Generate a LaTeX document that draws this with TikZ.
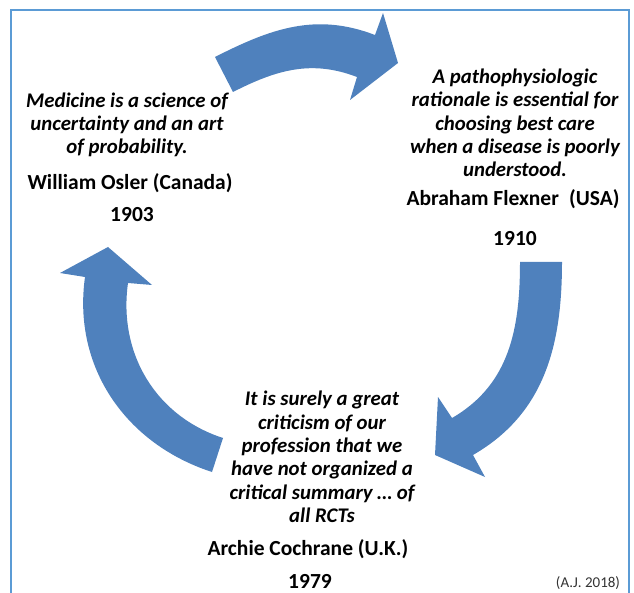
\documentclass[tikz,border=0pt]{standalone}
\usepackage{fontspec}
\setmainfont{Carlito}
\definecolor{arrowblue}{RGB}{79,129,189}
\definecolor{frameblue}{RGB}{91,155,213}

\begin{document}
\begin{tikzpicture}[x=1pt, y=1pt,
    quote/.style={align=center, inner sep=0pt, font=\fontsize{20.8}{23.3}\selectfont\bfseries\itshape},
    who/.style={inner sep=0pt, font=\fontsize{21.5}{24}\selectfont\bfseries},
    bigarrow/.style={fill=arrowblue}]
    \useasboundingbox (0,0) rectangle (634,592);
    \draw[frameblue, line width=1.8pt] (11,-10) -- (11,582) -- (629,582) -- (629,-10);

    % Osler
    \node[quote] (osler) at (127,467) {Medicine is a science of\\uncertainty and an art\\of probability.};
    \node[who] (oslername) at (130,409) {William Osler (Canada)};
    \node[who] (osleryear) at (132,377) {1903};

    % Flexner
    \node[quote] (flexner) at (515,469) {A pathophysiologic\\rationale is essential for\\choosing best care\\when a disease is poorly\\understood.};
    \node[who] (flexnername) at (513,393) {Abraham Flexner\hspace{0.25em} (USA)};
    \node[who] (flexneryear) at (515,353) {1910};

    % Cochrane
    \node[quote] (cochrane) at (322,135) {It is surely a great\\criticism of our\\profession that we\\have not organized a\\critical summary … of\\all RCTs};
    \node[who] (cochranename) at (308,43) {Archie Cochrane (U.K.)};
    \node[who] (cochraneyear) at (310,11) {1979};
    \node[inner sep=0pt, text=black!80, font=\fontsize{15}{18}\selectfont] (sig) at (588,9) {(A.J. 2018)};

    % arrows
    \fill[bigarrow] (215,535) to[out=27,in=159] (375,557) -- (383,579) -- (398,529)
        -- (350,492) -- (357,515) to[out=159,in=27] (233,500) -- cycle;
    \fill[bigarrow] (562,330) to[out=-90,in=30] (473,137) -- (485,115) -- (435,137)
        -- (438,195) -- (452,174) to[out=30,in=-90] (520,330) -- cycle;
    \fill[bigarrow] (212,120) to[out=162,in=262] (85,315) -- (60,319) -- (108,345)
        -- (152,307) -- (128,309) to[out=262,in=162] (223,154) -- cycle;
\end{tikzpicture}
\end{document}
